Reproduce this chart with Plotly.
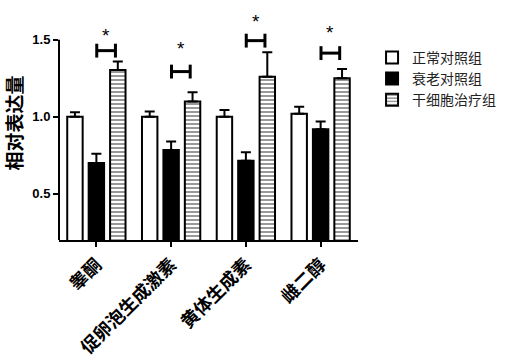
import plotly.graph_objects as go

categories = ["睾酮", "促卵泡生成激素", "黄体生成素", "雌二醇"]
series_names = ["正常对照组", "衰老对照组", "干细胞治疗组"]
normal_vals = [1.00, 1.00, 1.00, 1.02]
normal_err = [0.03, 0.035, 0.045, 0.045]
aged_vals = [0.70, 0.785, 0.715, 0.92]
aged_err = [0.06, 0.055, 0.055, 0.05]
stem_vals = [1.305, 1.10, 1.26, 1.25]
stem_err = [0.055, 0.06, 0.16, 0.06]
bracket_y = [1.43, 1.294, 1.495, 1.414]
star_y = [1.527, 1.443, 1.62, 1.55]
y_ticks = [0.5, 1.0, 1.5]

x = list(range(len(categories)))
fig = go.Figure()
styles = [
    dict(color="white"),
    dict(color="black"),
    dict(color="white", pattern=dict(shape="-", fgcolor="black", bgcolor="white", size=4, solidity=0.4)),
]
for name, vals, errs, st in zip(series_names, [normal_vals, aged_vals, stem_vals],
                                 [normal_err, aged_err, stem_err], styles):
    fig.add_trace(go.Bar(
        x=x, y=vals, name=name,
        marker=dict(line=dict(color="black", width=2), **st),
        error_y=dict(type="data", array=errs, arrayminus=[0]*len(errs), symmetric=False,
                     color="black", thickness=2, width=5),
    ))

# significance brackets
cap = 0.045
for i, (by, sy) in enumerate(zip(bracket_y, star_y)):
    x0, x1 = i + 0.005, i + 0.255
    fig.add_shape(type="line", x0=x0, x1=x1, y0=by, y1=by, line=dict(color="black", width=3))
    fig.add_shape(type="line", x0=x0, x1=x0, y0=by - cap, y1=by + cap, line=dict(color="black", width=3))
    fig.add_shape(type="line", x0=x1, x1=x1, y0=by - cap, y1=by + cap, line=dict(color="black", width=3))
    fig.add_annotation(x=(x0 + x1) / 2, y=sy, text="*", showarrow=False,
                       font=dict(family="Liberation Sans", size=19, color="black"))

# y axis line (stops at top tick)
fig.add_shape(type="line", xref="paper", yref="y", x0=0, x1=0, y0=0.2, y1=1.5,
              line=dict(color="black", width=2))

fig.update_layout(
    width=524, height=360,
    margin=dict(l=59, r=166, t=6, b=120, autoexpand=False),
    plot_bgcolor="white", paper_bgcolor="white",
    barmode="group", bargap=0.14, bargroupgap=0.28,
    showlegend=True,
    legend=dict(x=1.047, y=0.847, xanchor="left", yanchor="top",
                font=dict(family="Noto Sans CJK SC", size=14, color="#222"),
                tracegroupgap=4, itemsizing="constant"),
    xaxis=dict(range=[-0.5, 3.5], tickvals=x, ticktext=categories, tickangle=-45,
               automargin=False,
               showline=True, linecolor="black", linewidth=2, ticks="outside",
               ticklen=5, tickwidth=2, tickcolor="black", showgrid=False, zeroline=False,
               tickfont=dict(family="Noto Sans CJK SC", size=18, color="black", weight="bold")),
    yaxis=dict(range=[0.2, 1.72], tickvals=y_ticks, ticktext=["0.5", "1.0", "1.5"],
               automargin=False,
               showline=False, ticks="outside", ticklen=5, tickwidth=2, tickcolor="black",
               showgrid=False, zeroline=False,
               tickfont=dict(family="Liberation Sans", size=13, color="black", weight="bold"),
               title=dict(text="相对表达量", standoff=4,
                          font=dict(family="Noto Sans CJK SC", size=19, color="black", weight="bold"))),
)
fig.write_html("out.html", config={"displayModeBar": False},
               post_script="document.body.style.margin='0';document.body.style.padding='0';")
